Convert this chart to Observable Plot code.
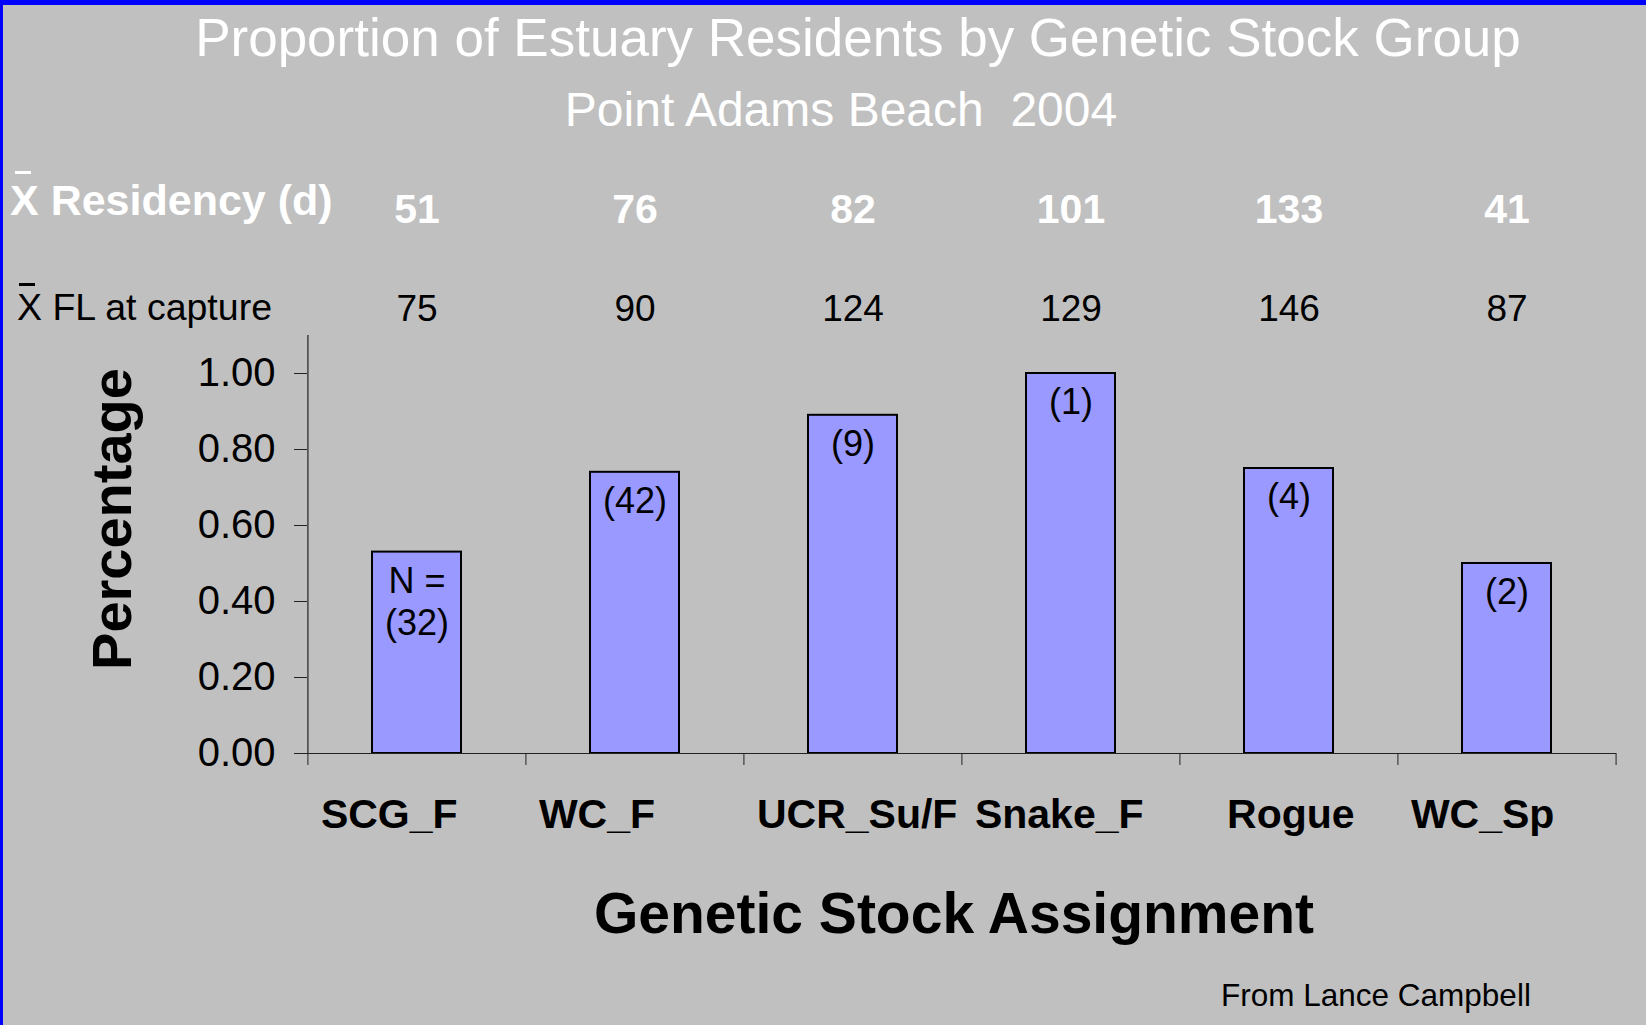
<!DOCTYPE html>
<html><head><meta charset="utf-8">
<script src="https://cdn.jsdelivr.net/npm/d3@7"></script>
<script src="https://cdn.jsdelivr.net/npm/@observablehq/plot@0.6"></script>
<style>
html,body{margin:0;padding:0;background:#c0c0c0;overflow:hidden}
#wrap{position:relative;width:1646px;height:1025px;background:#c0c0c0;font-family:"Liberation Sans",Arial,sans-serif}
#chart{position:absolute;left:0;top:0}
#chart svg text{white-space:pre}
#over{position:absolute;left:0;top:0;pointer-events:none}
.bt{position:absolute;left:0;top:0;width:1646px;height:5px;background:#0000ff}
.bl{position:absolute;left:0;top:0;width:3px;height:1025px;background:#0000ff}
</style></head><body>
<div id="wrap"><div id="chart"></div><svg id="over" width="1646" height="1025"></svg><div class="bt"></div><div class="bl"></div></div>
<script>
// ---- data ----
const stocks = ["SCG_F", "WC_F", "UCR_Su/F", "Snake_F", "Rogue", "WC_Sp"];
const stockTickLabels = ["SCG_F", "WC_F", "UCR_Su/F", "Snake_F", "   Rogue", "WC_Sp"];
const proportions = [0.53, 0.74, 0.89, 1.00, 0.75, 0.50];
const sampleLabels = ["N =\n(32)", "(42)", "(9)", "(1)", "(4)", "(2)"];
const residencyDays = [51, 76, 82, 101, 133, 41];
const forkLengths = [75, 90, 124, 129, 146, 87];
const yTicks = [0, 0.2, 0.4, 0.6, 0.8, 1.0];
const titleText = "Proportion of Estuary Residents by Genetic Stock Group";
const subtitleText = "Point Adams Beach  2004";
const xTitle = "Genetic Stock Assignment";
const yTitle = "Percentage";
const captionText = "From Lance Campbell";
const rowLabelResidency = "X Residency (d)";
const rowLabelFL = "X FL at capture";

const rows = stocks.map((s, i) => ({
  stock: s, prop: proportions[i], label: sampleLabels[i],
  res: String(residencyDays[i]), fl: String(forkLengths[i])
}));
const tickLabelOf = new Map(stocks.map((s, i) => [s, stockTickLabels[i]]));

const FONT = '"Liberation Sans", Arial, sans-serif';
const W = 1646, H = 1025;
const mL = 307, mR = 30, mT = 335, mB = 272;
const step = (W - mL - mR) / stocks.length;

const chart = Plot.plot({
  width: W, height: H,
  marginLeft: mL, marginRight: mR, marginTop: mT, marginBottom: mB,
  style: {background: "transparent", fontFamily: FONT, color: "black", overflow: "visible"},
  x: {type: "band", domain: stocks, paddingInner: 0.59, paddingOuter: 0.295},
  y: {domain: [0, 1.1]},
  marks: [
    Plot.barY(rows, {x: "stock", y: "prop", fill: "#9999ff", stroke: "black", strokeWidth: 2}),
    Plot.ruleX([stocks[0]], {x: d => d, dx: -step / 2, y1: 0, y2: 1.1, stroke: "#222", strokeWidth: 1.2}),
    Plot.ruleY([0], {stroke: "#222", strokeWidth: 1.2}),
    Plot.axisY({ticks: yTicks, tickFormat: d3.format(".2f"), tickSize: 13, tickPadding: 19,
      fontSize: 40, stroke: "#222", label: null}),
    Plot.axisX({tickSize: 0, tickPadding: 45, fontSize: 41, fontWeight: "bold", label: null,
      tickFormat: d => tickLabelOf.get(d), textAnchor: "start", dx: -step / 2 + 13}),
    Plot.axisX({tickSize: 12, tickFormat: () => "", dx: -step / 2, stroke: "#222", label: null}),
    Plot.axisX({ticks: [stocks[stocks.length - 1]], tickSize: 12, tickFormat: () => "", dx: step / 2, stroke: "#222", label: null}),
    Plot.text(rows, {x: "stock", y: "prop", text: "label", lineAnchor: "top", dy: 11,
      fontSize: 36, lineHeight: 1.17, fill: "black"}),
    Plot.text(rows, {x: "stock", text: "res", frameAnchor: "top", lineAnchor: "bottom", dy: -113,
      fontSize: 41, fontWeight: "bold", fill: "white"}),
    Plot.text(rows, {x: "stock", text: "fl", frameAnchor: "top", lineAnchor: "bottom", dy: -15,
      fontSize: 37, fill: "black"})
  ]
});
document.getElementById("chart").appendChild(chart);

// ---- overlay texts ----
const over = d3.select("#over");
function txt(x, y, s, size, o = {}) {
  return over.append("text")
    .attr("x", x).attr("y", y)
    .attr("font-family", FONT).attr("font-size", size)
    .attr("font-weight", o.bold ? "bold" : "normal")
    .attr("fill", o.fill || "black")
    .attr("text-anchor", o.anchor || "start")
    .attr("transform", o.transform || null)
    .style("white-space", "pre")
    .text(s);
}
txt(858, 56, titleText, 53, {fill: "white", anchor: "middle"});
txt(841, 126, subtitleText, 48, {fill: "white", anchor: "middle"});
txt(10, 215, rowLabelResidency, 43, {fill: "white", bold: true});
over.append("rect").attr("x", 15).attr("y", 171).attr("width", 16).attr("height", 3).attr("fill", "white");
txt(17, 320, rowLabelFL, 37.5, {fill: "black"});
over.append("rect").attr("x", 19).attr("y", 283).attr("width", 16).attr("height", 3).attr("fill", "black");
txt(0, 0, yTitle, 56, {bold: true, anchor: "middle", transform: "translate(131,519) rotate(-90)"});
txt(954, 933, xTitle, 57, {bold: true, anchor: "middle"});
txt(1221, 1006, captionText, 31.5, {fill: "black"});
</script>
</body></html>
